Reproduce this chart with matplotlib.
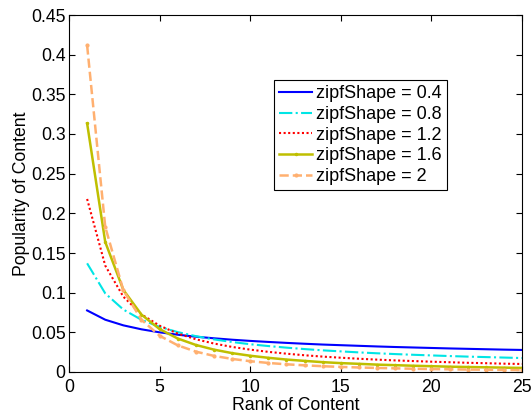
import matplotlib
matplotlib.use("Agg")
import matplotlib.pyplot as plt

plt.rcParams['font.family'] = ['Liberation Sans', 'DejaVu Sans']

rank = list(range(1, 26))
p04 = [0.0776, 0.0659, 0.0588, 0.0538, 0.0500, 0.0470, 0.0445, 0.0425, 0.0407, 0.0392,
       0.0379, 0.0367, 0.0356, 0.0346, 0.0338, 0.0330, 0.0322, 0.0315, 0.0309, 0.0303,
       0.0297, 0.0292, 0.0287, 0.0282, 0.0278]
p08 = [0.1370, 0.0991, 0.0787, 0.0658, 0.0569, 0.0503, 0.0452, 0.0411, 0.0378, 0.0350,
       0.0327, 0.0307, 0.0289, 0.0273, 0.0260, 0.0247, 0.0236, 0.0226, 0.0217, 0.0209,
       0.0201, 0.0194, 0.0188, 0.0182, 0.0176]
p12 = [0.2181, 0.1341, 0.0949, 0.0726, 0.0584, 0.0485, 0.0413, 0.0359, 0.0316, 0.0282,
       0.0254, 0.0231, 0.0211, 0.0194, 0.0180, 0.0167, 0.0156, 0.0146, 0.0138, 0.0130,
       0.0123, 0.0116, 0.0111, 0.0105, 0.0101]
p16 = [0.3134, 0.1639, 0.1034, 0.0723, 0.0541, 0.0422, 0.0341, 0.0282, 0.0238, 0.0205,
       0.0179, 0.0157, 0.0140, 0.0124, 0.0112, 0.0103, 0.0093, 0.0086, 0.0079, 0.0073,
       0.0067, 0.0063, 0.0059, 0.0055, 0.0051]
p20 = [0.4117, 0.1830, 0.1029, 0.0659, 0.0457, 0.0336, 0.0257, 0.0203, 0.0165, 0.0136,
       0.0114, 0.0097, 0.0084, 0.0073, 0.0064, 0.0057, 0.0051, 0.0046, 0.0041, 0.0037,
       0.0034, 0.0031, 0.0029, 0.0026, 0.0024]
labels = ['zipfShape = 0.4', 'zipfShape = 0.8', 'zipfShape = 1.2', 'zipfShape = 1.6', 'zipfShape = 2']

fig = plt.figure(figsize=(5.32, 4.16), dpi=100)
ax = fig.add_axes([69/532, 44/416, 453/532, 357/416])

ax.plot(rank, p04, color='#0000ff', lw=1.5, ls='-', label=labels[0])
ax.plot(rank, p08, color='#00e5e5', lw=1.5, ls='-.', label=labels[1])
ax.plot(rank, p12, color='#ff0000', lw=1.5, ls=(0, (1, 1.2)), label=labels[2])
ax.plot(rank, p16, color='#bfbf00', lw=1.8, ls='-', marker='.', ms=3, label=labels[3])
ax.plot(rank, p20, color='#ffb070', lw=1.8, ls='--', marker='.', ms=4, label=labels[4])

ax.set_xlim(0, 25)
ax.set_ylim(0, 0.45)
ax.set_xticks([0, 5, 10, 15, 20, 25])
ax.set_yticks([0, 0.05, 0.1, 0.15, 0.2, 0.25, 0.3, 0.35, 0.4, 0.45])
ax.set_yticklabels(['0', '0.05', '0.1', '0.15', '0.2', '0.25', '0.3', '0.35', '0.4', '0.45'])
ax.tick_params(direction='in', top=True, right=True, labelsize=12.7, length=4, width=0.8)
ax.tick_params(axis='x', pad=5)
ax.tick_params(axis='y', pad=2.5)
for s in ax.spines.values():
    s.set_linewidth(0.8)
ax.set_xlabel('Rank of Content', fontsize=12.7, labelpad=1)
ax.set_ylabel('Popularity of Content', fontsize=12.7, labelpad=0.5)

leg = ax.legend(loc='upper left', bbox_to_anchor=(0.4525, 0.818), fontsize=13,
                frameon=True, fancybox=False, edgecolor='black', framealpha=1,
                handlelength=1.8, handletextpad=0.2, borderpad=0.3, labelspacing=0.2,
                borderaxespad=0)
leg.get_frame().set_linewidth(0.8)

fig.savefig('out.png', dpi=100)
